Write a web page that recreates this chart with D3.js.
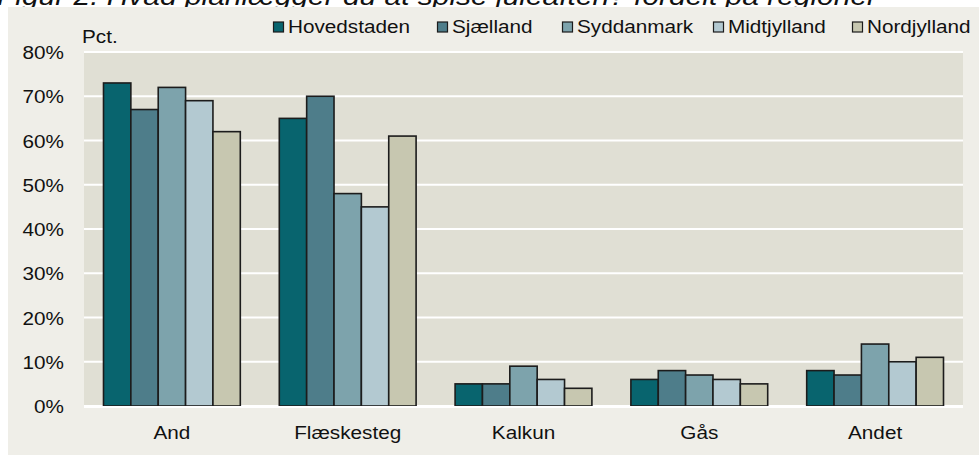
<!DOCTYPE html>
<html><head><meta charset="utf-8">
<script src="https://cdn.jsdelivr.net/npm/d3@7"></script>
<style>body{margin:0;background:#fff}svg{display:block}text{font-family:"Liberation Sans",Arial,sans-serif;fill:#111}</style>
</head><body>
<script>
const title = "Figur 2. Hvad planlægger du at spise juleaften? fordelt på regioner";
const categories = ["And","Flæskesteg","Kalkun","Gås","Andet"];
const seriesNames = ["Hovedstaden","Sjælland","Syddanmark","Midtjylland","Nordjylland"];
const seriesColors = ["#08646E","#4E7D8A","#7DA3AC","#B3C9D1","#C7C7B0"];
const hovedstaden = [73,65,5,6,8];
const sjaelland   = [67,70,5,8,7];
const syddanmark  = [72,48,9,7,14];
const midtjylland = [69,45,6,6,10];
const nordjylland = [62,61,4,5,11];
const yTicks = [0,10,20,30,40,50,60,70,80];
const seriesValues = [hovedstaden,sjaelland,syddanmark,midtjylland,nordjylland];

const W=979,H=455;
const svg=d3.select("body").append("svg").attr("width",W).attr("height",H);
const SX=1.12, FS=18.5;
function txt(g,x,y,s,anchor,opts={}){
  return g.append("text").attr("transform",`translate(${x},${y}) scale(${opts.sx||SX},1)`)
   .attr("text-anchor",anchor||"start").attr("font-size",opts.fs||FS)
   .attr("font-style",opts.italic?"italic":null).text(s);
}
// title (cut off at top, as in the reference)
svg.append("text").attr("x",-3).attr("y",5).attr("font-size",25).attr("font-style","italic")
  .attr("textLength",880).attr("lengthAdjust","spacingAndGlyphs").text(title);
// panel
svg.append("rect").attr("x",8).attr("y",7).attr("width",W-8).attr("height",H-7).attr("fill","#EFEEE8");

const plot={l:84,r:963,t:52,b:406};
const y=d3.scaleLinear().domain([0,80]).range([plot.b,plot.t]);
const x0=d3.scaleBand().domain(categories).range([plot.l,plot.r]);
const x1=d3.scaleBand().domain(seriesNames).range([19.5,x0.bandwidth()-19.5]);

svg.append("rect").attr("x",plot.l).attr("y",plot.t).attr("width",plot.r-plot.l).attr("height",plot.b-plot.t).attr("fill","#E0DFD4");
// grid
svg.append("g").selectAll("line").data(yTicks).join("line")
  .attr("x1",plot.l).attr("x2",plot.r).attr("y1",d=>y(d)).attr("y2",d=>y(d))
  .attr("stroke","#fff").attr("stroke-width",2);

// bars
const gBars=svg.append("g");
categories.forEach((c,ci)=>{
  seriesNames.forEach((s,si)=>{
    const v=seriesValues[si][ci];
    gBars.append("rect").attr("x",x0(c)+x1(s)).attr("y",y(v))
      .attr("width",x1.bandwidth()).attr("height",y(0)-y(v))
      .attr("fill",seriesColors[si]).attr("stroke","#1c1c1c").attr("stroke-width",1.6);
  });
});
// baseline
svg.append("line").attr("x1",plot.l).attr("x2",plot.r).attr("y1",y(0)+1).attr("y2",y(0)+1).attr("stroke","#fff").attr("stroke-width",2);

// y labels
const gy=svg.append("g");
yTicks.forEach(t=>txt(gy,64,y(t)+7,t+"%","end"));
// x labels
const gx=svg.append("g");
categories.forEach(c=>txt(gx,x0(c)+x0.bandwidth()/2,439,c,"middle"));
// Pct.
txt(svg,82,43,"Pct.","start");

// legend
const legX=[273,437,562,713,852];
const gl=svg.append("g");
seriesNames.forEach((s,i)=>{
  gl.append("rect").attr("x",legX[i]+0.5).attr("y",22).attr("width",10).attr("height",10)
    .attr("fill",seriesColors[i]).attr("stroke","#1c1c1c").attr("stroke-width",1.2);
  txt(gl,legX[i]+15,33,s,"start");
});
</script>
</body></html>
